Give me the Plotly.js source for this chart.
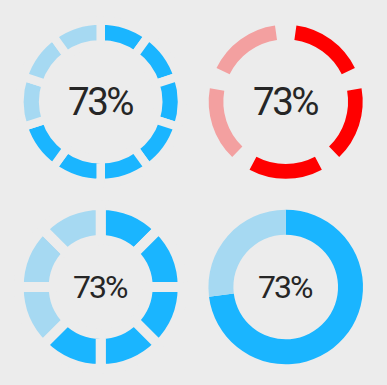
<!DOCTYPE html>
<html><head><meta charset="utf-8">
<script src="https://cdn.plot.ly/plotly-3.0.1.min.js"></script>
<style>html,body{margin:0;padding:0;background:#ececec;}#chart{width:387px;height:385px;}</style>
</head><body><div id="chart"></div>
<script>
// ---- data ----
const percent = 73;                    // value shown in every gauge
const segmentCounts = [10, 5, 8];      // segments in the three dashed rings (TL, TR, BL)
const filledSegments = [7, 3, 5];      // coloured segments in those rings
const solidValues = [73, 27];          // plain donut (BR): filled, remainder
const labels = ['73%', '73%', '73%', '73%'];

// ---- styling / geometry ----
const W = 387, H = 385, BG = '#ececec';
const BLUE = '#1ab5ff', BLUE_L = '#a6d9f2', RED = '#ff0000', RED_L = '#f3a0a0';
function dom(cx, cy, r) { return {x: [(cx - r) / W, (cx + r) / W], y: [1 - (cy + r) / H, 1 - (cy - r) / H]}; }

function segTrace(n, k, on, off, d, hole, gapPx) {
  const values = [], colors = [];
  for (let i = 0; i < n; i++) { values.push(1); colors.push(i < k ? on : off); }
  return {type: 'pie', values: values, sort: false, direction: 'clockwise', rotation: 0,
    hole: hole, domain: d, textinfo: 'none', hoverinfo: 'skip',
    marker: {colors: colors, line: {color: BG, width: gapPx}}};
}
function gapSegTrace(n, k, on, off, d, hole, gapDeg) {
  const segDeg = 360 / n - gapDeg;
  const values = [], colors = [];
  for (let i = 0; i < n; i++) {
    values.push(1); colors.push(i < k ? on : off);
    values.push(gapDeg / segDeg); colors.push('rgba(0,0,0,0)');
  }
  return {type: 'pie', values: values, sort: false, direction: 'clockwise', rotation: gapDeg / 2,
    hole: hole, domain: d, textinfo: 'none', hoverinfo: 'skip',
    marker: {colors: colors, line: {width: 0}}};
}

const centers = [[100.7, 101.7], [285.7, 101.7], [100.7, 287], [285.7, 287]];
const traces = [
  segTrace(segmentCounts[0], filledSegments[0], BLUE, BLUE_L, dom(100.7, 101.7, 81.2), 0.708, 8.5),
  gapSegTrace(segmentCounts[1], filledSegments[1], RED, RED_L, dom(285.7, 101.7, 77), 0.81, 16),
  segTrace(segmentCounts[2], filledSegments[2], BLUE, BLUE_L, dom(100.7, 287, 82), 0.573, 10),
  {type: 'pie', values: solidValues, sort: false, direction: 'clockwise', rotation: 0,
    hole: 0.677, domain: dom(285.7, 287, 77.3), textinfo: 'none', hoverinfo: 'skip',
    marker: {colors: [BLUE, BLUE_L], line: {width: 0}}}
];
const sizes = [38.5, 38.5, 32, 32];
const spacing = [-2.5, -2.5, -2, -2];
const annotations = labels.map((t, i) => ({
  text: '<span style="letter-spacing:' + spacing[i] + 'px">' + t + '</span>',
  x: centers[i][0] / W, y: 1 - centers[i][1] / H, xref: 'paper', yref: 'paper',
  showarrow: false, xanchor: 'center', yanchor: 'middle',
  font: {family: 'Roboto', size: sizes[i], color: '#262626'}
}));
Plotly.newPlot('chart', traces, {
  width: W, height: H, margin: {l: 0, r: 0, t: 0, b: 0},
  paper_bgcolor: BG, plot_bgcolor: BG, showlegend: false, hovermode: false,
  annotations: annotations
}, {staticPlot: true, displayModeBar: false});
</script></body></html>
